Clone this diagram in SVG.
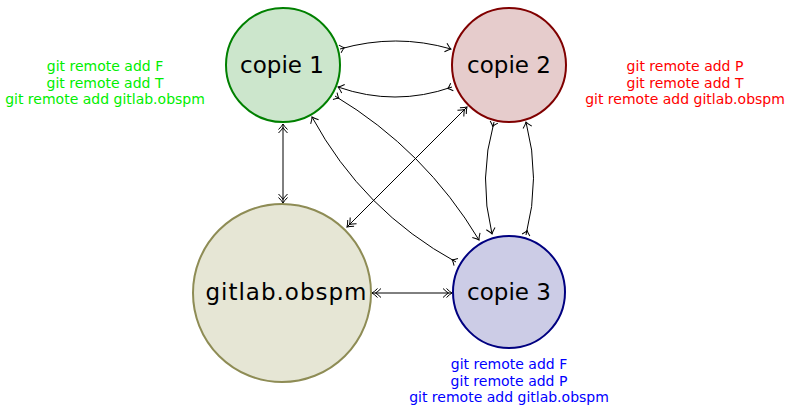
<svg xmlns="http://www.w3.org/2000/svg" width="787" height="405" viewBox="0 0 787 405">
<style>
.node{stroke-width:2}
.lbl{font-family:"DejaVu Sans",sans-serif;font-size:23px;fill:#000;text-anchor:middle}
.note{font-family:"DejaVu Sans",sans-serif;font-size:14px;text-anchor:middle}
.c{fill:none;stroke:#000;stroke-width:1}
.mk{fill:none;stroke:#000;stroke-width:1}
</style>
<defs>
<marker id="h" markerUnits="userSpaceOnUse" markerWidth="14" markerHeight="14" refX="0" refY="0" viewBox="-10 -7 14 14" orient="auto" overflow="visible">
<path class="mk" d="M-5.5,-4.5 Q-2,-1 0,0 Q-2,1 -5.5,4.5"/>
</marker>
<marker id="hh" markerUnits="userSpaceOnUse" markerWidth="16" markerHeight="14" refX="0" refY="0" viewBox="-12 -7 16 14" orient="auto-start-reverse" overflow="visible">
<path class="mk" d="M-5.5,-4.5 Q-2,-1 0,0 Q-2,1 -5.5,4.5"/>
<path class="mk" d="M-9,-4.5 Q-5.5,-1 -3.5,0 Q-5.5,1 -9,4.5"/>
</marker>
<marker id="t" markerUnits="userSpaceOnUse" markerWidth="14" markerHeight="14" refX="0" refY="0" viewBox="-4 -7 14 14" orient="auto" overflow="visible">
<path class="mk" d="M0,-4 Q3,-0.8 4.5,0 Q3,0.8 0,4"/>
</marker>
</defs>

<g id="copie1">
<circle class="node" cx="283" cy="65" r="57" fill="#cce6cc" stroke="#008000"/>
<text class="lbl" x="282" y="73">copie 1</text>
</g>
<g id="copie2">
<circle class="node" cx="509" cy="65" r="57" fill="#e6cccc" stroke="#800000"/>
<text class="lbl" x="509" y="73">copie 2</text>
</g>
<g id="copie3">
<circle class="node" cx="509" cy="292" r="56" fill="#ccccE6" stroke="#000080"/>
<text class="lbl" x="509" y="300">copie 3</text>
</g>
<g id="gitlab">
<circle class="node" cx="282" cy="293" r="89" fill="#e6e6d5" stroke="#8e8c55"/>
<text class="lbl" x="286" y="300" textLength="161">gitlab.obspm</text>
</g>

<g id="notes">
<text class="note" fill="#00ee00" x="105" y="71">git remote add F</text>
<text class="note" fill="#00ee00" x="105" y="87.5">git remote add T</text>
<text class="note" fill="#00ee00" x="105" y="104">git remote add gitlab.obspm</text>
<text class="note" fill="#ff0000" x="685" y="71">git remote add P</text>
<text class="note" fill="#ff0000" x="685" y="87.5">git remote add T</text>
<text class="note" fill="#ff0000" x="685" y="104">git remote add gitlab.obspm</text>
<text class="note" fill="#0000ff" x="509" y="369">git remote add F</text>
<text class="note" fill="#0000ff" x="509" y="385.5">git remote add P</text>
<text class="note" fill="#0000ff" x="509" y="402">git remote add gitlab.obspm</text>
</g>

<g id="connectors">
<path class="c" d="M340,49 Q396,33 451,49" marker-start="url(#t)" marker-end="url(#h)"/>
<path class="c" d="M452,87 Q395,107 338,87" marker-start="url(#t)" marker-end="url(#h)"/>
<path class="c" d="M494,122 Q478,178 492,234" marker-start="url(#t)" marker-end="url(#h)"/>
<path class="c" d="M526,235 Q541,178 526,122" marker-start="url(#t)" marker-end="url(#h)"/>
<path class="c" d="M335,96 Q425,150 479,240" marker-start="url(#t)" marker-end="url(#h)"/>
<path class="c" d="M456,262 Q363,211 312,117" marker-start="url(#t)" marker-end="url(#h)"/>
<path class="c" d="M283,124 L283,203" marker-start="url(#hh)" marker-end="url(#hh)"/>
<path class="c" d="M347,227 L467,107" marker-start="url(#hh)" marker-end="url(#hh)"/>
<path class="c" d="M372,293 L452,293" marker-start="url(#hh)" marker-end="url(#hh)"/>
</g>
</svg>
